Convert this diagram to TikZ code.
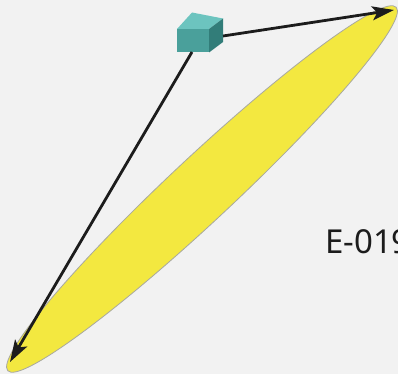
\documentclass[tikz,border=0pt]{standalone}
\usepackage{fontspec}
\setmainfont{Noto Sans}
\usetikzlibrary{arrows.meta}
\definecolor{bgc}{HTML}{F2F2F2}
\definecolor{beam}{HTML}{F3E840}
\definecolor{beamedge}{HTML}{A8A8A0}
\definecolor{cubetop}{HTML}{6CC4BF}
\definecolor{cubefront}{HTML}{4AA09B}
\definecolor{cuberight}{HTML}{327D79}
\definecolor{ink}{HTML}{1C1C1C}
\tikzset{
  ray/.style={draw=ink, line width=2.8pt, -{Stealth[length=22pt,width=14pt,inset=5pt]}},
  lbl/.style={font=\fontsize{33}{40}\selectfont, text=ink, inner sep=0pt, anchor=base west}
}
\begin{document}
\begin{tikzpicture}[x=1pt,y=-1pt]
\useasboundingbox (0,0) rectangle (398,374);
\fill[bgc] (0,0) rectangle (398,374);
% beam footprint
\filldraw[fill=beam, draw=beamedge, line width=0.8pt, shift={(202,189)}, rotate=43.1]
  (0,0) ellipse [x radius=266pt, y radius=32pt];
% cube
\fill[cubetop] (177,29) -- (209,29) -- (223,18.5) -- (192,12.5) -- cycle;
\fill[cubefront] (177,29) rectangle (209,52.5);
\fill[cuberight] (209,29) -- (223,18.5) -- (223,42) -- (209,52.5) -- cycle;
\coordinate (cubebot) at (192,52);
\coordinate (cubeside) at (223,36);
\coordinate (tipA) at (10,362);
\coordinate (tipB) at (394,10);
\draw[ray] (cubebot) -- (tipA);
\draw[ray] (cubeside) -- (tipB);
\node[lbl] (label) at (325,253) {E-019};
\end{tikzpicture}
\end{document}
